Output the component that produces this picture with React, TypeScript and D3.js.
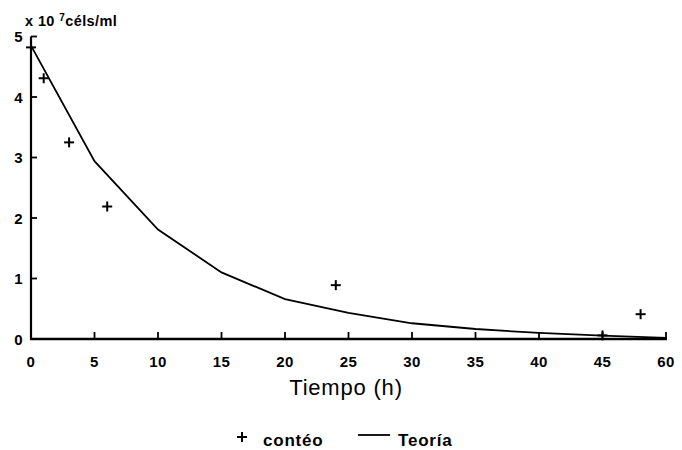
import React from "react";
import * as d3 from "d3";

const countHours = [0, 1, 3, 6, 24, 45, 48];
const countValues = [4.82, 4.31, 3.25, 2.19, 0.89, 0.06, 0.41];

const theoryHours = [0, 5, 10, 15, 20, 25, 30, 35, 40, 45, 50];
const theoryValues = [4.85, 2.94, 1.81, 1.1, 0.66, 0.43, 0.26, 0.165, 0.1, 0.055, 0.02];

const xTicks = [0, 5, 10, 15, 20, 25, 30, 35, 40, 45, 50];
const xTickLabels = ["0", "5", "10", "15", "20", "25", "30", "35", "40", "45", "60"];
const yTicks = [0, 1, 2, 3, 4, 5];

export default function App() {
  const W = 682, H = 450;
  const x = d3.scaleLinear().domain([0, 50]).range([31, 666]);
  const y = d3.scaleLinear().domain([0, 5]).range([339, 36.5]);
  const line = d3
    .line<number>()
    .x((_, i) => x(theoryHours[i]))
    .y((d) => y(d));
  const font = "'Liberation Sans', Arial, sans-serif";
  return (
    <svg
      width={W}
      height={H}
      style={{ position: "absolute", left: 0, top: 0, background: "#fff" }}
      fontFamily={font}
    >
      <rect width={W} height={H} fill="#fff" />
      {/* axes */}
      <line x1={x(0)} x2={x(0)} y1={y(0) + 1} y2={y(5)} stroke="#000" strokeWidth={2.2} />
      <line x1={x(0) - 1} x2={x(50) + 1} y1={y(0)} y2={y(0)} stroke="#000" strokeWidth={2.6} />
      {yTicks.map((t) => (
        <g key={"y" + t}>
          <line x1={x(0)} x2={x(0) + 6} y1={y(t)} y2={y(t)} stroke="#000" strokeWidth={1.8} />
          <text x={18.5} y={y(t) + 5.5} textAnchor="middle" fontSize={15} fontWeight={700}>
            {t}
          </text>
        </g>
      ))}
      {xTicks.map((t, i) => (
        <g key={"x" + t}>
          <line x1={x(t)} x2={x(t)} y1={y(0)} y2={y(0) - 7} stroke="#000" strokeWidth={1.8} />
          <text x={x(t)} y={367} textAnchor="middle" fontSize={15} fontWeight={700} letterSpacing={0.5}>
            {xTickLabels[i]}
          </text>
        </g>
      ))}
      {/* unit label */}
      <text x={25} y={26} fontSize={14.5} fontWeight={700} letterSpacing={0.4}>
        <tspan>x 10 </tspan>
        <tspan dy={-5} fontSize={10}>7</tspan>
        <tspan dy={5}>céls/ml</tspan>
      </text>
      {/* theory line */}
      <path d={line(theoryValues) || ""} fill="none" stroke="#000" strokeWidth={1.8} />
      {/* count markers */}
      {countHours.map((h, i) => {
        const cx = x(h), cy = y(countValues[i]);
        return (
          <g key={"c" + i} stroke="#000" strokeWidth={2}>
            <line x1={cx - 5} x2={cx + 5} y1={cy} y2={cy} />
            <line x1={cx} x2={cx} y1={cy - 5} y2={cy + 5} />
          </g>
        );
      })}
      {/* x title */}
      <text x={346} y={395} textAnchor="middle" fontSize={22} fontWeight={400} letterSpacing={0.8}>
        Tiempo (h)
      </text>
      {/* legend */}
      <g stroke="#000" strokeWidth={2}>
        <line x1={237} x2={247} y1={437} y2={437} />
        <line x1={242} x2={242} y1={432} y2={442} />
      </g>
      <text x={263} y={446} fontSize={17} fontWeight={700} letterSpacing={0.8}>contéo</text>
      <line x1={358} x2={390} y1={435} y2={435} stroke="#000" strokeWidth={1.8} />
      <text x={398} y={446} fontSize={17} fontWeight={700} letterSpacing={0.8}>Teoría</text>
    </svg>
  );
}
